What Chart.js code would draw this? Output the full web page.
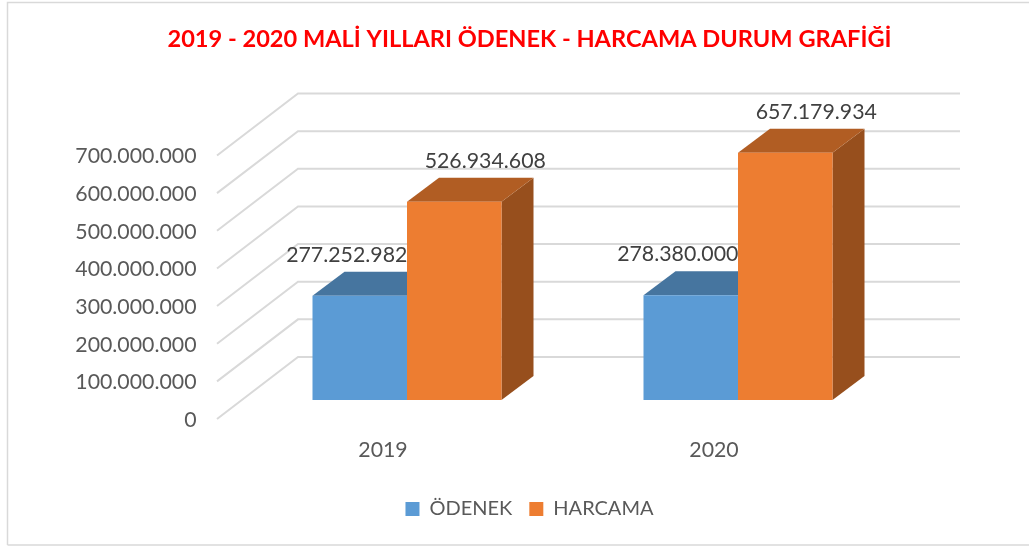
<!DOCTYPE html>
<html><head><meta charset="utf-8">
<style>html,body{margin:0;padding:0;background:#fff}#w{width:1029px;height:546px;position:relative}</style>
<script src="https://cdn.jsdelivr.net/npm/chart.js@4"></script>
</head><body><div id="w"><canvas id="c" width="1029" height="546"></canvas></div>
<script>
const categories = ['2019', '2020'];
const odenek = [277252982, 278380000];
const harcama = [526934608, 657179934];
const titleText = '2019 - 2020 MALİ YILLARI ÖDENEK - HARCAMA DURUM GRAFİĞİ';
const seriesNames = ['ÖDENEK', 'HARCAMA'];
const yMax = 700000000, yStep = 100000000;

const FONT = 'Lato, Carlito, Calibri, sans-serif';
const fmt = v => String(Math.round(v)).replace(/\B(?=(\d{3})+(?!\d))/g, '.');

const DX = 32, DY = 24;
const faces = [{top:'#46759F', side:'#3C668C'}, {top:'#B15D23', side:'#974F1D'}];
const labelDX = [-13, 31], labelDY = -41;

const threeD = {
  id: 'threeD',
  beforeDatasetsDraw(chart) {
    const {ctx, scales:{y}} = chart;
    ctx.save();
    ctx.strokeStyle = '#D9D9D9'; ctx.lineWidth = 2;
    y.ticks.forEach(t => {
      const p = y.getPixelForValue(t.value);
      ctx.beginPath();
      ctx.moveTo(217, p + 19);
      ctx.lineTo(298, p - 43);
      ctx.lineTo(960, p - 43);
      ctx.stroke();
    });
    chart.data.datasets.forEach((ds, i) => {
      chart.getDatasetMeta(i).data.forEach(b => {
        const l = b.x - b.width/2, r = b.x + b.width/2, t = b.y, base = b.base;
        ctx.fillStyle = faces[i].side;
        ctx.beginPath();
        ctx.moveTo(r, t); ctx.lineTo(r+DX, t-DY); ctx.lineTo(r+DX, base-DY); ctx.lineTo(r, base);
        ctx.closePath(); ctx.fill();
        ctx.fillStyle = faces[i].top;
        ctx.beginPath();
        ctx.moveTo(l, t); ctx.lineTo(l+DX, t-DY); ctx.lineTo(r+DX, t-DY); ctx.lineTo(r, t);
        ctx.closePath(); ctx.fill();
      });
    });
    ctx.restore();
  },
  afterDatasetsDraw(chart) {
    const {ctx} = chart;
    ctx.save();
    ctx.font = '21.3px ' + FONT;
    ctx.fillStyle = '#404040';
    ctx.textAlign = 'center'; ctx.textBaseline = 'middle';
    chart.data.datasets.forEach((ds, i) => {
      chart.getDatasetMeta(i).data.forEach((b, k) => {
        ctx.fillText(fmt(ds.data[k]), b.x + labelDX[i], b.y + labelDY);
      });
    });
    ctx.restore();
  },
  afterDraw(chart) {
    const {ctx} = chart;
    ctx.save();
    ctx.strokeStyle = '#D9D9D9'; ctx.lineWidth = 1.5;
    ctx.beginPath();
    ctx.moveTo(7.5, 545); ctx.lineTo(7.5, 2.5); ctx.lineTo(1029, 2.5);
    ctx.moveTo(7.5, 545); ctx.lineTo(1029, 545);
    ctx.stroke();
    ctx.restore();
  }
};

new Chart(document.getElementById('c'), {
  type: 'bar',
  data: {
    labels: categories,
    datasets: [
      {label: seriesNames[0], data: odenek, backgroundColor: '#5B9BD5'},
      {label: seriesNames[1], data: harcama, backgroundColor: '#ED7D31'}
    ]
  },
  plugins: [threeD],
  options: {
    responsive: false,
    animation: false,
    devicePixelRatio: 1,
    layout: {padding: {left: 30, right: 0, top: 0, bottom: 17}},
    datasets: {bar: {barPercentage: 1, categoryPercentage: 0.571}},
    plugins: {
      tooltip: {enabled: false},
      title: {display: true, text: titleText, color: '#FF0000',
        font: {family: FONT, size: 23.6, weight: 'bold'},
        padding: {top: 25, bottom: 83.2}},
      legend: {position: 'bottom',
        labels: {boxWidth: 14, boxHeight: 14, padding: 17, color: '#595959',
          font: {family: FONT, size: 20}}}
    },
    scales: {
      x: {
        grid: {display: false, drawTicks: false}, border: {display: false},
        ticks: {color: '#595959', font: {family: FONT, size: 21.3}, padding: 37, labelOffset: -24, maxRotation: 0},
        afterFit(s) { s.height = 82; }
      },
      y: {
        min: 0, max: yMax,
        grid: {display: false, drawTicks: false}, border: {display: false},
        ticks: {stepSize: yStep, color: '#595959', font: {family: FONT, size: 21.3}, padding: 45, labelOffset: 20, callback: v => fmt(v)},
        afterFit(s) { s.width = 211.5; }
      },
      yR: {
        position: 'right', min: 0, max: yMax,
        grid: {display: false, drawTicks: false}, border: {display: false},
        ticks: {display: false},
        afterFit(s) { s.width = 125.5; }
      }
    }
  }
});
</script></body></html>
